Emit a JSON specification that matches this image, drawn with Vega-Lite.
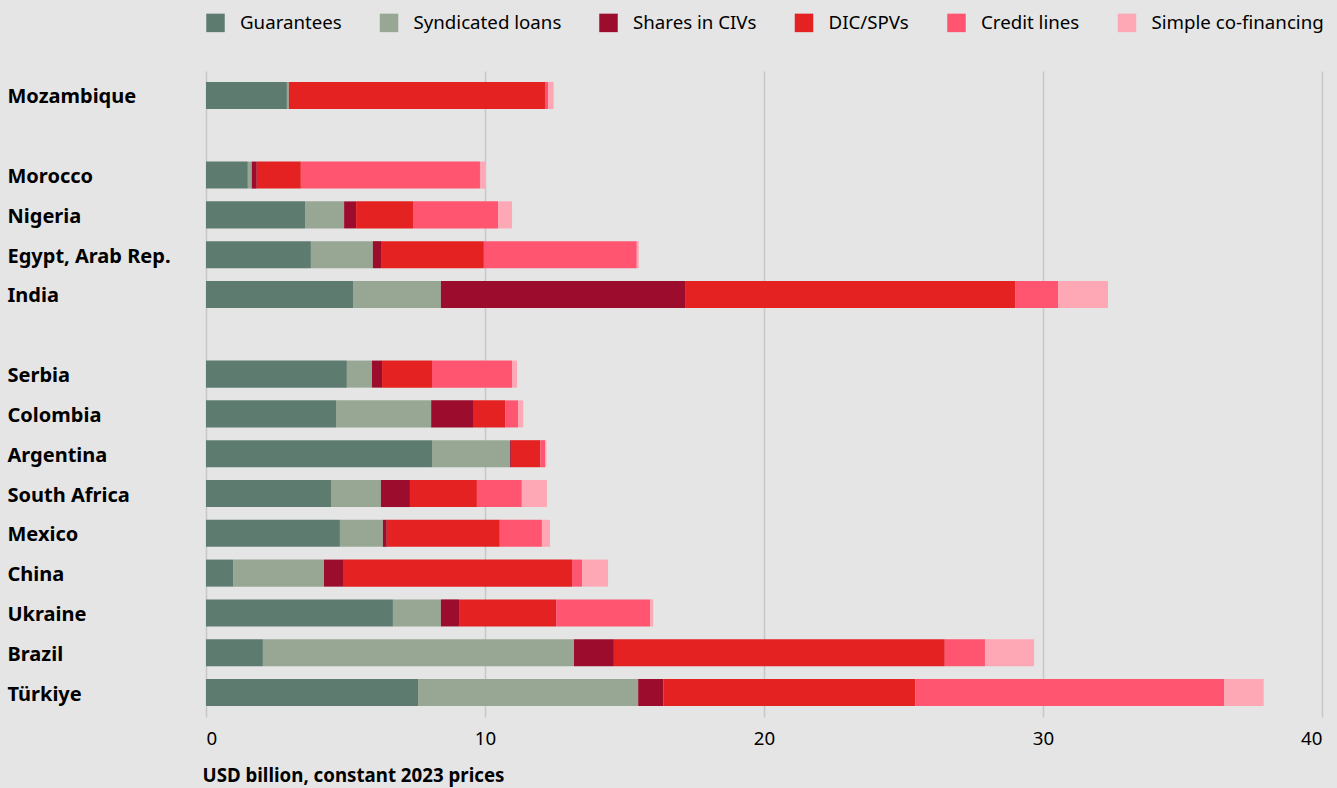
{
  "$schema": "https://vega.github.io/schema/vega-lite/v6.json",
  "width": 1116,
  "height": 646,
  "autosize": {"type": "none"},
  "padding": {"left": 206, "top": 71, "right": 15, "bottom": 71},
  "background": "#e5e5e5",
  "config": {"view": {"stroke": null}, "font": "Noto Sans"},
  "data": {
    "values": [
      {"country": "Mozambique", "Guarantees": 2.90, "Syndicated loans": 0.07, "Shares in CIVs": 0, "DIC/SPVs": 9.18, "Credit lines": 0.11, "Simple co-financing": 0.20},
      {"country": "Morocco", "Guarantees": 1.50, "Syndicated loans": 0.14, "Shares in CIVs": 0.18, "DIC/SPVs": 1.58, "Credit lines": 6.42, "Simple co-financing": 0.20},
      {"country": "Nigeria", "Guarantees": 3.55, "Syndicated loans": 1.40, "Shares in CIVs": 0.43, "DIC/SPVs": 2.04, "Credit lines": 3.05, "Simple co-financing": 0.50},
      {"country": "Egypt, Arab Rep.", "Guarantees": 3.76, "Syndicated loans": 2.22, "Shares in CIVs": 0.32, "DIC/SPVs": 3.66, "Credit lines": 5.48, "Simple co-financing": 0.07},
      {"country": "India", "Guarantees": 5.27, "Syndicated loans": 3.15, "Shares in CIVs": 8.75, "DIC/SPVs": 11.83, "Credit lines": 1.54, "Simple co-financing": 1.79},
      {"country": "Serbia", "Guarantees": 5.05, "Syndicated loans": 0.90, "Shares in CIVs": 0.36, "DIC/SPVs": 1.79, "Credit lines": 2.87, "Simple co-financing": 0.18},
      {"country": "Colombia", "Guarantees": 4.66, "Syndicated loans": 3.41, "Shares in CIVs": 1.50, "DIC/SPVs": 1.15, "Credit lines": 0.47, "Simple co-financing": 0.18},
      {"country": "Argentina", "Guarantees": 8.10, "Syndicated loans": 2.80, "Shares in CIVs": 0.03, "DIC/SPVs": 1.05, "Credit lines": 0.18, "Simple co-financing": 0.04},
      {"country": "South Africa", "Guarantees": 4.48, "Syndicated loans": 1.79, "Shares in CIVs": 1.04, "DIC/SPVs": 2.40, "Credit lines": 1.61, "Simple co-financing": 0.90},
      {"country": "Mexico", "Guarantees": 4.80, "Syndicated loans": 1.54, "Shares in CIVs": 0.14, "DIC/SPVs": 4.05, "Credit lines": 1.51, "Simple co-financing": 0.29},
      {"country": "China", "Guarantees": 0.97, "Syndicated loans": 3.26, "Shares in CIVs": 0.68, "DIC/SPVs": 8.21, "Credit lines": 0.36, "Simple co-financing": 0.93},
      {"country": "Ukraine", "Guarantees": 6.70, "Syndicated loans": 1.72, "Shares in CIVs": 0.65, "DIC/SPVs": 3.48, "Credit lines": 3.37, "Simple co-financing": 0.11},
      {"country": "Brazil", "Guarantees": 2.04, "Syndicated loans": 11.15, "Shares in CIVs": 1.43, "DIC/SPVs": 11.86, "Credit lines": 1.44, "Simple co-financing": 1.76},
      {"country": "Türkiye", "Guarantees": 7.60, "Syndicated loans": 7.89, "Shares in CIVs": 0.90, "DIC/SPVs": 9.03, "Credit lines": 11.08, "Simple co-financing": 1.41}
    ]
  },
  "transform": [
    {"fold": ["Guarantees", "Syndicated loans", "Shares in CIVs", "DIC/SPVs", "Credit lines", "Simple co-financing"], "as": ["type", "value"]},
    {"calculate": "indexof(['Guarantees','Syndicated loans','Shares in CIVs','DIC/SPVs','Credit lines','Simple co-financing'], datum.type)", "as": "ord"}
  ],
  "mark": {"type": "bar"},
  "encoding": {
    "y": {
      "field": "country",
      "type": "nominal",
      "scale": {
        "domain": ["Mozambique", "gap1", "Morocco", "Nigeria", "Egypt, Arab Rep.", "India", "gap2", "Serbia", "Colombia", "Argentina", "South Africa", "Mexico", "China", "Ukraine", "Brazil", "Türkiye"],
        "paddingInner": 0.32,
        "paddingOuter": 0.275
      },
      "axis": {
        "title": null,
        "domain": false,
        "ticks": false,
        "tickSize": 0,
        "grid": false,
        "labelAlign": "left",
        "labelBaseline": "middle",
        "labelPadding": 199,
        "labelOffset": 2,
        "labelFontSize": 20,
        "labelFontWeight": "bold",
        "labelColor": "#000000",
        "labelExpr": "indexof(datum.value, 'gap') == 0 ? '' : datum.value"
      }
    },
    "x": {
      "field": "value",
      "type": "quantitative",
      "stack": "zero",
      "scale": {"domain": [0, 40], "nice": false},
      "axis": {
        "title": "USD billion, constant 2023 prices",
        "values": [0, 10, 20, 30, 40],
        "domain": false,
        "ticks": false,
        "tickSize": 0,
        "grid": true,
        "gridColor": "#c8c8c8",
        "gridWidth": 1.5,
        "labelFontSize": 18.7,
        "labelColor": "#000000",
        "labelPadding": 12,
        "labelFlush": true,
        "titleFontSize": 18.7,
        "titleFontWeight": "bold",
        "titleColor": "#000000",
        "titleAnchor": "start",
        "titleAlign": "left",
        "titleBaseline": "middle",
        "titleX": -4,
        "titleY": 58
      }
    },
    "color": {
      "field": "type",
      "type": "nominal",
      "scale": {
        "domain": ["Guarantees", "Syndicated loans", "Shares in CIVs", "DIC/SPVs", "Credit lines", "Simple co-financing"],
        "range": ["#5e7b70", "#98a694", "#9c0d2d", "#e42222", "#ff5570", "#ffa8b5"]
      },
      "legend": {
        "title": null,
        "orient": "none",
        "direction": "horizontal",
        "legendX": 0,
        "legendY": -58,
        "symbolType": "square",
        "symbolSize": 342,
        "symbolStrokeWidth": 0,
        "labelFontSize": 18.7,
        "labelLimit": 400,
        "labelColor": "#000000",
        "labelOffset": 15,
        "columnPadding": 37.5
      }
    },
    "order": {"field": "ord", "type": "quantitative"}
  }
}
